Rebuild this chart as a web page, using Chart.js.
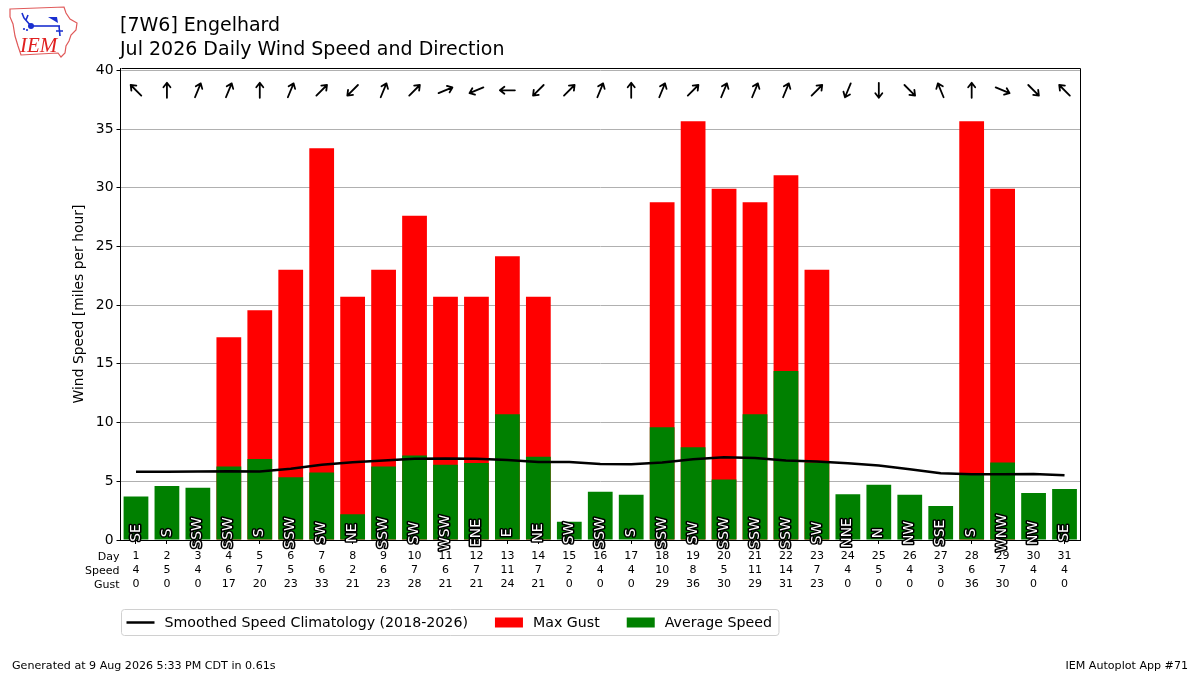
<!DOCTYPE html>
<html><head><meta charset="utf-8">
<script src="https://cdn.jsdelivr.net/npm/chart.js@4.4.1/dist/chart.umd.min.js"></script>
<style>html,body{margin:0;padding:0;background:#fff;}#wrap{width:1200px;height:675px;position:relative;}</style>
</head><body><div id="wrap"><canvas id="c" width="1200" height="675"></canvas></div>
<script>
const days = [1,2,3,4,5,6,7,8,9,10,11,12,13,14,15,16,17,18,19,20,21,22,23,24,25,26,27,28,29,30,31];
const avgSpeed = [3.7,4.6,4.45,6.25,6.9,5.35,5.75,2.2,6.25,7.2,6.4,6.55,10.7,7.1,1.55,4.1,3.85,9.6,7.9,5.15,10.7,14.4,6.6,3.9,4.7,3.85,2.9,5.7,6.6,4.0,4.35];
const maxGust = [0,0,0,17.26,19.56,23.02,33.37,20.71,23.02,27.62,20.71,20.71,24.17,20.71,0,0,0,28.77,35.67,29.92,28.77,31.07,23.02,0,0,0,0,35.67,29.92,0,0];
const climo = [5.81,5.81,5.83,5.86,5.83,6.06,6.4,6.62,6.77,6.91,6.94,6.91,6.82,6.65,6.65,6.48,6.45,6.6,6.88,7.05,6.99,6.77,6.68,6.54,6.34,6.03,5.69,5.6,5.6,5.63,5.52];
const directions = ['SE','S','SSW','SSW','S','SSW','SW','NE','SSW','SW','WSW','ENE','E','NE','SW','SSW','S','SSW','SW','SSW','SSW','SSW','SW','NNE','N','NW','SSE','S','WNW','NW','SE'];
const speedLabels = [4,5,4,6,7,5,6,2,6,7,6,7,11,7,2,4,4,10,8,5,11,14,7,4,5,4,3,6,7,4,4];
const gustLabels = [0,0,0,17,20,23,33,21,23,28,21,21,24,21,0,0,0,29,36,30,29,31,23,0,0,0,0,36,30,0,0];
const rowLabels = ['Day','Speed','Gust'];
const yTicks = [0,5,10,15,20,25,30,35,40];
const compassNames = ['N','NNE','NE','ENE','E','ESE','SE','SSE','S','SSW','SW','WSW','W','WNW','NW','NNW'];
const titleLines = ['[7W6] Engelhard','Jul 2026 Daily Wind Speed and Direction'];
const yTitle = 'Wind Speed [miles per hour]';
const footerLeft = 'Generated at 9 Aug 2026 5:33 PM CDT in 0.61s';
const footerRight = 'IEM Autoplot App #71';

const FONT = '"DejaVu Sans", sans-serif';
Chart.defaults.font.family = FONT;

const X_LINE_H = 14;
const X_TICK_LEN = 4;
const X_PAD = 5;

const decor = {
  id: 'decor',
  afterDatasetsDraw(chart) {
    const ctx = chart.ctx, ca = chart.chartArea;
    const xs = chart.scales.x, ys = chart.scales.y;
    ctx.save();
    ctx.font = '13.9px ' + FONT;
    ctx.lineJoin = 'round';
    ctx.textAlign = 'center';
    ctx.textBaseline = 'middle';
    const yl = ys.getPixelForValue(0.6);
    directions.forEach((d, i) => {
      const x = xs.getPixelForValue(i);
      ctx.save();
      ctx.translate(x, yl);
      ctx.rotate(-Math.PI / 2);
      ctx.lineWidth = 3;
      ctx.strokeStyle = '#000';
      ctx.strokeText(d, 0, 0);
      ctx.fillStyle = '#fff';
      ctx.fillText(d, 0, 0);
      ctx.restore();
    });
    const ya = ys.getPixelForValue(38.3);
    ctx.strokeStyle = '#000';
    ctx.lineWidth = 1.8;
    ctx.lineCap = 'round';
    directions.forEach((d, i) => {
      const deg = compassNames.indexOf(d) * 22.5 + 180;
      const th = deg * Math.PI / 180;
      const x = xs.getPixelForValue(i);
      const L = 7.5;
      ctx.save();
      ctx.translate(x, ya);
      ctx.rotate(th);
      ctx.beginPath();
      ctx.moveTo(0, L); ctx.lineTo(0, -L);
      ctx.moveTo(-3.5, -L + 4.5); ctx.lineTo(0, -L); ctx.lineTo(3.5, -L + 4.5);
      ctx.stroke();
      ctx.restore();
    });
    ctx.restore();
  },
  afterDraw(chart) {
    const ctx = chart.ctx, ca = chart.chartArea;
    ctx.save();
    ctx.strokeStyle = '#000'; ctx.lineWidth = 1;
    ctx.beginPath();
    ctx.moveTo(Math.round(ca.left) + 0.5, Math.round(ca.top) + 0.5);
    ctx.lineTo(Math.round(ca.right) + 0.5, Math.round(ca.top) + 0.5);
    ctx.lineTo(Math.round(ca.right) + 0.5, Math.round(ca.bottom) + 0.5);
    ctx.stroke();
    ctx.fillStyle = '#000';
    ctx.font = '11px ' + FONT;
    ctx.textAlign = 'right'; ctx.textBaseline = 'middle';
    const y0 = ca.bottom + X_TICK_LEN + X_PAD + X_LINE_H / 2 + 1;
    rowLabels.forEach((t, i) => ctx.fillText(t, ca.left - 1, y0 + i * X_LINE_H));
    ctx.textAlign = 'left'; ctx.textBaseline = 'alphabetic';
    ctx.font = '19px ' + FONT;
    ctx.fillText(titleLines[0], 120, 31);
    ctx.fillText(titleLines[1], 120, 55);
    ctx.save();
    ctx.font = '13.9px ' + FONT;
    ctx.translate(79, (ca.top + ca.bottom) / 2);
    ctx.rotate(-Math.PI / 2);
    ctx.textAlign = 'center'; ctx.textBaseline = 'middle';
    ctx.fillText(yTitle, 0, 0);
    ctx.restore();
    ctx.font = '11.1px ' + FONT;
    ctx.textBaseline = 'alphabetic';
    ctx.textAlign = 'left';
    ctx.fillText(footerLeft, 12, 669);
    ctx.textAlign = 'right';
    ctx.fillText(footerRight, 1188, 669);
    // legend
    const ds = chart.data.datasets;
    const items = [ds[2], ds[0], ds[1]];
    ctx.font = '14.2px ' + FONT;
    const lx = 121.5, ly = 609.5, lh = 26;
    let x = lx + 5;
    const cy = ly + lh / 2;
    const widths = items.map(it => ctx.measureText(it.label).width);
    let total = 5;
    items.forEach((it, i) => { total += 28 + 10 + widths[i] + (i < items.length - 1 ? 27 : 7); });
    ctx.beginPath();
    if (ctx.roundRect) ctx.roundRect(lx, ly, total, lh, 3); else ctx.rect(lx, ly, total, lh);
    ctx.fillStyle = 'rgba(255,255,255,0.8)'; ctx.fill();
    ctx.strokeStyle = '#d0d0d0'; ctx.lineWidth = 1; ctx.stroke();
    ctx.textAlign = 'left'; ctx.textBaseline = 'middle';
    items.forEach((it, i) => {
      if (it.type === 'line') {
        ctx.strokeStyle = it.borderColor; ctx.lineWidth = 2.5;
        ctx.beginPath(); ctx.moveTo(x, cy); ctx.lineTo(x + 28, cy); ctx.stroke();
      } else {
        ctx.fillStyle = it.backgroundColor;
        ctx.fillRect(x, cy - 5, 28, 10);
      }
      x += 38;
      ctx.fillStyle = '#000';
      ctx.fillText(it.label, x, cy + 0.5);
      x += widths[i] + 27;
    });
    // logo
    ctx.strokeStyle = '#e05a5a'; ctx.lineWidth = 1.2;
    ctx.beginPath();
    const iowa = [[10,9],[64,7],[66,13],[70,19],[77,23],[76,30],[71,35],[69,41],[66,46],[65,53],[61,57],[58,53],[21,55],[18,46],[15,36],[13,24],[10,17]];
    iowa.forEach((p, i) => i ? ctx.lineTo(p[0], p[1]) : ctx.moveTo(p[0], p[1]));
    ctx.closePath(); ctx.stroke();
    ctx.fillStyle = '#e02020';
    ctx.font = 'italic 21px "Liberation Serif", serif';
    ctx.textAlign = 'left'; ctx.textBaseline = 'alphabetic';
    ctx.fillText('IEM', 20, 52);
    ctx.strokeStyle = '#1a2fd0'; ctx.fillStyle = '#1a2fd0'; ctx.lineWidth = 1.6;
    ctx.beginPath(); ctx.moveTo(31, 26); ctx.lineTo(60, 26); ctx.stroke();
    ctx.beginPath(); ctx.arc(31, 26, 3, 0, Math.PI * 2); ctx.fill();
    ctx.beginPath(); ctx.moveTo(31, 26); ctx.lineTo(24, 18); ctx.moveTo(26, 20); ctx.lineTo(28, 15); ctx.moveTo(24, 18); ctx.lineTo(22, 13); ctx.stroke();
    ctx.beginPath(); ctx.moveTo(48, 17); ctx.lineTo(58, 23); ctx.lineTo(57, 17); ctx.closePath(); ctx.fill();
    ctx.beginPath(); ctx.moveTo(59, 26); ctx.lineTo(60, 36); ctx.moveTo(56, 31); ctx.lineTo(63, 31); ctx.stroke();
    ctx.beginPath(); ctx.arc(24, 29, 1.1, 0, 7); ctx.fill();
    ctx.beginPath(); ctx.arc(27, 30, 1.1, 0, 7); ctx.fill();
    ctx.restore();
  }
};

new Chart(document.getElementById('c'), {
  type: 'bar',
  data: {
    labels: days.map(String),
    datasets: [
      { label: 'Max Gust', data: maxGust, backgroundColor: '#ff0000', borderWidth: 0, grouped: false, order: 2, barPercentage: 0.8, categoryPercentage: 1.0 },
      { label: 'Average Speed', data: avgSpeed, backgroundColor: '#008000', borderWidth: 0, grouped: false, order: 1, barPercentage: 0.8, categoryPercentage: 1.0 },
      { type: 'line', label: 'Smoothed Speed Climatology (2018-2026)', data: climo, borderColor: '#000', borderWidth: 2.5, pointRadius: 0, tension: 0, fill: false, order: 0 }
    ]
  },
  options: {
    responsive: false,
    animation: false,
    devicePixelRatio: 1,
    layout: { padding: { left: 70, right: 120, top: 68, bottom: 75 } },
    plugins: { legend: { display: false }, tooltip: { enabled: false }, title: { display: false } },
    scales: {
      x: {
        type: 'category',
        offset: true,
        grid: { display: true, drawOnChartArea: false, drawTicks: true, tickLength: X_TICK_LEN, tickColor: '#000', offset: false },
        border: { display: true, color: '#000', width: 1 },
        ticks: {
          autoSkip: false, maxRotation: 0, minRotation: 0, padding: X_PAD, color: '#000',
          font: { size: 11, lineHeight: X_LINE_H / 11 },
          callback: (v, i) => [String(days[i]), String(speedLabels[i]), String(gustLabels[i])]
        },
        afterFit: s => { s.height = 60; }
      },
      y: {
        min: 0, max: 40.2,
        afterBuildTicks: s => { s.ticks = yTicks.map(v => ({ value: v })); },
        grid: { color: '#b0b0b0', lineWidth: 1, drawTicks: true, tickLength: 4, tickColor: '#000' },
        border: { display: true, color: '#000', width: 1 },
        ticks: { color: '#000', padding: 3, font: { size: 13.9 } },
        afterFit: s => { s.width = 50.5; }
      }
    }
  },
  plugins: [decor]
});
</script></body></html>
